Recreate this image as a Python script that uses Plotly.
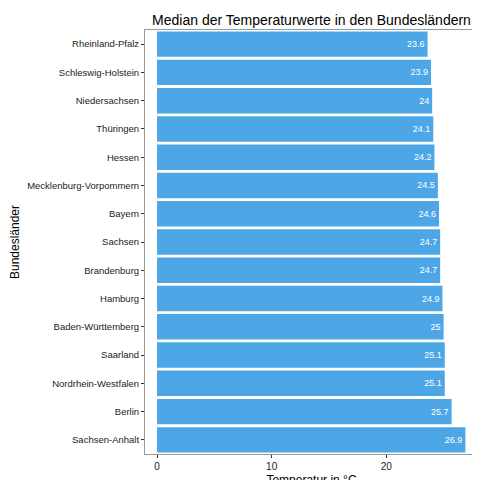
import plotly.graph_objects as go

laender = ["Rheinland-Pfalz","Schleswig-Holstein","Niedersachsen","Thüringen","Hessen",
           "Mecklenburg-Vorpommern","Bayern","Sachsen","Brandenburg","Hamburg",
           "Baden-Württemberg","Saarland","Nordrhein-Westfalen","Berlin","Sachsen-Anhalt"]
median = [23.6,23.9,24,24.1,24.2,24.5,24.6,24.7,24.7,24.9,25,25.1,25.1,25.7,26.9]
labels = ["23.6","23.9","24","24.1","24.2","24.5","24.6","24.7","24.7","24.9","25","25.1","25.1","25.7","26.9"]

fig = go.Figure(go.Bar(
    x=median, y=laender, orientation="h", marker_color="#4DA7E6", marker_line_width=0,
    width=0.9, text=labels, textposition="inside", insidetextanchor="end",
    textfont=dict(color="white", size=9, family="Liberation Sans"), cliponaxis=False))

fig.update_layout(
    width=480, height=480, plot_bgcolor="white", paper_bgcolor="white",
    margin=dict(l=137, r=10, t=22, b=34),
    title=dict(text="Median der Temperaturwerte in den Bundesländern", x=0.5, xref="paper",
               xanchor="center", y=0.985, yanchor="top", font=dict(size=14, color="black")),
    font=dict(family="Liberation Sans", color="black", size=10),
    showlegend=False)
fig.update_xaxes(range=[-1.05, 28.0], tickvals=[0,10,20], showgrid=False, zeroline=False,
                 showline=True, mirror=True, linecolor="#999", linewidth=1, automargin=False,
                 ticks="outside", ticklen=3, tickcolor="#333",
                 title=dict(text="Temperatur in °C", font=dict(size=12), standoff=4),
                 tickfont=dict(size=10, color="#222"))
fig.update_yaxes(autorange="reversed", showgrid=False, showline=True, mirror=True,
                 linecolor="#999", linewidth=1, ticks="outside", ticklen=3, tickcolor="#333",
                 automargin=False,
                 title=dict(text="Bundesländer", font=dict(size=12), standoff=4),
                 tickfont=dict(size=9.5, color="#222"))
fig.write_html("out.html")
